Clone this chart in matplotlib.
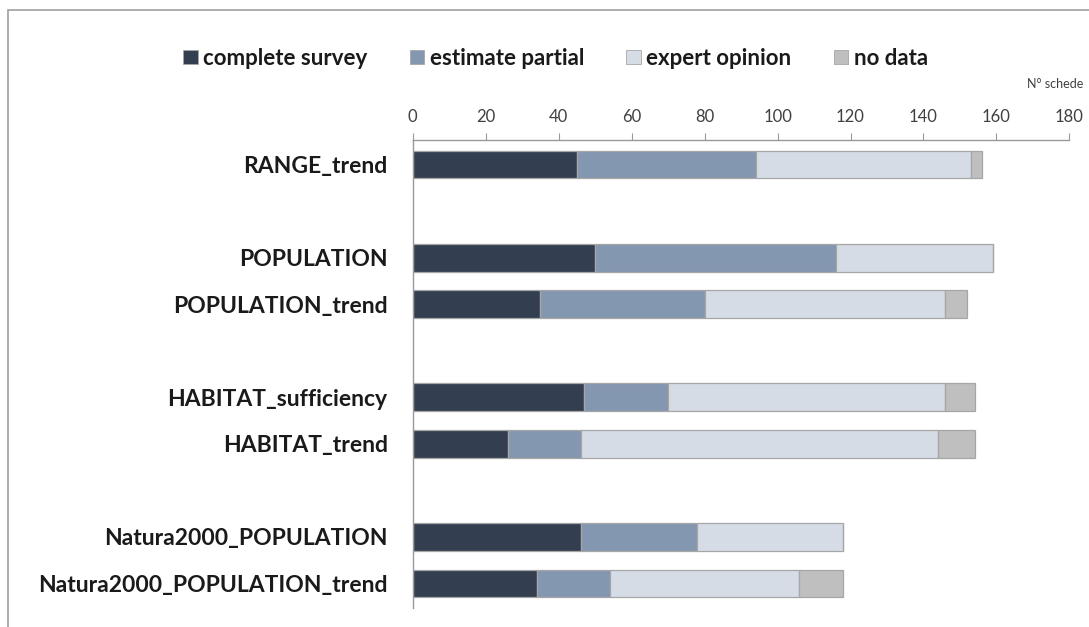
import matplotlib.pyplot as plt
import matplotlib.patches as mpatches
import numpy as np

plt.rcParams['font.family'] = ['Lato', 'DejaVu Sans']

categories = ["RANGE_trend", "POPULATION", "POPULATION_trend",
              "HABITAT_sufficiency", "HABITAT_trend",
              "Natura2000_POPULATION", "Natura2000_POPULATION_trend"]
groups = [0, 1, 1, 2, 2, 3, 3]   # blocks separated by an empty row

complete_survey = [45, 50, 35, 47, 26, 46, 34]
estimate_partial = [49, 66, 45, 23, 20, 32, 20]
expert_opinion = [59, 43, 66, 76, 98, 40, 52]
no_data = [3, 0, 6, 8, 10, 0, 12]

series = ["complete survey", "estimate partial", "expert opinion", "no data"]
colors = ["#333f50", "#8497b0", "#d6dce5", "#bfbfbf"]
xticks = [0, 20, 40, 60, 80, 100, 120, 140, 160, 180]

fig = plt.figure(figsize=(10.89, 6.27), dpi=100)
ax = fig.add_axes([0.379, 0.030, 0.603, 0.747])

ypos = np.arange(len(categories)) + np.array(groups)
left = np.zeros(len(categories))
handles = []
for name, vals, col in zip(series, [complete_survey, estimate_partial, expert_opinion, no_data], colors):
    vals = np.array(vals, dtype=float)
    ax.barh(ypos, vals, left=left, height=0.6, color=col,
            edgecolor="#a6a6a6", linewidth=0.9)
    left += vals
    handles.append(mpatches.Patch(facecolor=col, edgecolor="#a6a6a6", linewidth=0.6, label=name))

ax.set_xlim(0, 180)
ax.set_ylim(ypos.max() + 0.53, -0.53)
ax.set_yticks(ypos)
ax.set_yticklabels(categories, fontsize=16.5, fontweight="bold", color="#1a1a1a")
ax.tick_params(axis="y", length=0, pad=18)

ax.xaxis.tick_top()
ax.set_xticks(xticks)
ax.tick_params(axis="x", direction="out", length=5, color="#999999",
               labelsize=12, labelcolor="#404040", pad=6)

for s in ["right", "bottom"]:
    ax.spines[s].set_visible(False)
for s in ["top", "left"]:
    ax.spines[s].set_color("#999999")
    ax.spines[s].set_linewidth(1)

fig.legend(handles=handles, loc="center", bbox_to_anchor=(0.51, 0.907), ncol=4,
           frameon=False, prop={"size": 16, "weight": "bold"},
           handlelength=0.65, handleheight=0.65, handletextpad=0.25,
           columnspacing=1.9, labelcolor="#1a1a1a")

fig.text(0.995, 0.866, "N° schede", ha="right", va="center", fontsize=9, color="#404040")

# outer frame of the picture
fig.patches.append(mpatches.Rectangle((8 / 1089, -0.1), 1.2, 1.1 - 10 / 627,
                                      transform=fig.transFigure, fill=False,
                                      edgecolor="#a0a0a0", linewidth=1.2))

fig.savefig("out.png", dpi=100)
